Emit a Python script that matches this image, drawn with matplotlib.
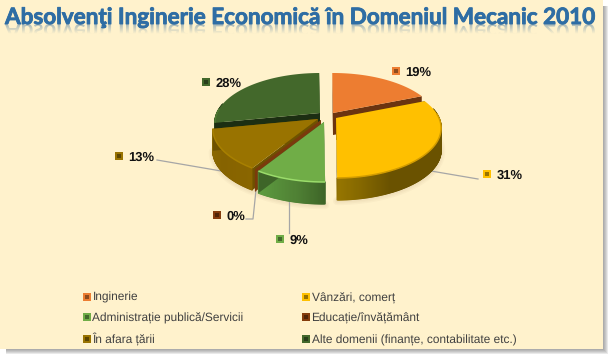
import numpy as np
import matplotlib
matplotlib.use('Agg')
import matplotlib.pyplot as plt
from matplotlib.colors import to_rgb
from matplotlib.font_manager import FontProperties
from matplotlib.patches import Rectangle, Polygon, PathPatch
from matplotlib.patheffects import withStroke
from matplotlib.textpath import TextPath
from matplotlib.transforms import Affine2D

plt.rcParams['text.hinting'] = 'no_hinting'

title = 'Absolvenţi Inginerie Economică în Domeniul Mecanic 2010'
names = ['Inginerie', 'Vânzări, comerț', 'Administrație publică/Servicii',
         'Educație/învățământ', 'În afara țării', 'Alte domenii (finanțe, contabilitate etc.)']
values = [19, 31, 9, 0, 13, 28]

top_cols = ['#ed7d31', '#ffc000', '#70ad47', '#843c0c', '#997300', '#43682b']
cut_cols = ['#6b3410', '#6b5300', '#3e6528', '#7a3a0c', '#6e5200', '#1c2e12']
rim_cols = ['#f59a5c', '#d29c00', '#9bdc6b', '#843c0c', '#a88000', '#4f7a33']
# wall colour along the angle of each slice
wall_stops = [
    ([0, 360], ['#7a3a0c', '#7a3a0c']),
    ([70, 155, 172, 180], ['#6a5200', '#6a5200', '#8a6c00', '#977600']),
    ([180, 192, 212], ['#3e6528', '#4f8034', '#5e9c40']),
    ([0, 360], ['#7a3a0c', '#7a3a0c']),
    ([212, 235, 260], ['#8a6600', '#866300', '#8a6800']),
    ([0, 360], ['#2a4019', '#2a4019']),
]
# where each exploded slice has its tip, in pixels
tips = [(333, 113), (336, 118), (324, 122), (321, 120), (318, 119), (320, 113)]
draw_order = [5, 0, 4, 3, 1, 2]

label_pos = [(396, 71), (487, 174), (280, 239), (217, 215), (119, 156), (206, 82)]
leaders = [
    ([431, 478], [171, 179]),
    ([289, 289], [200, 233]),
    ([246, 253, 256], [219, 219, 190]),
    ([157, 227], [160, 172]),
]
legend_x = [87, 306]
legend_y = [297, 317, 339]

RX, RY, PERSP, DEPTH = 103, 48, 0.2, 22
START = -0.5

fig = plt.figure(figsize=(6.11, 3.58), dpi=100, facecolor='white')
ax = fig.add_axes([0, 0, 1, 1])
ax.set_xlim(0, 611)
ax.set_ylim(358, 0)
ax.axis('off')

# panel and its shadow
for i in range(6):
    ax.add_patch(Rectangle((6, 6), 597 + i, 343 + i, fc='#666666', ec='none', alpha=0.14, zorder=0))
ax.add_patch(Rectangle((0, 0), 603, 349, fc='#fff2cc', ec='none', zorder=1))


def rim(theta, tip):
    t = np.radians(theta)
    s = 1 / (1 + PERSP * np.cos(t))
    return tip[0] + RX * np.sin(t) * s, tip[1] - RY * np.cos(t) * s


edges = START + 3.6 * np.concatenate([[0], np.cumsum(values)])

# soft shadow under the front of the pie
for lw in (6, 4, 2):
    for i in (1, 2, 4):
        a = np.linspace(edges[i], edges[i + 1], 40)
        x, y = rim(a, tips[i])
        ax.plot(x, y + DEPTH + 1, color='#a08060', lw=lw, alpha=0.05, zorder=2, solid_capstyle='round')

for n, i in enumerate(draw_order):
    z = 3 + n
    tip = tips[i]
    a0, a1 = edges[i], edges[i + 1]
    angles = np.linspace(a0, a1, max(int(a1 - a0) * 2, 2))
    x, y = rim(angles, tip)

    # outer wall, in small strips for the shading
    stops, cols = wall_stops[i]
    cols = np.array([to_rgb(c) for c in cols])
    for k in range(len(angles) - 1):
        mid = (angles[k] + angles[k + 1]) / 2
        if np.cos(np.radians(mid)) > 0.2:
            continue
        c = [np.interp(mid, stops, cols[:, j]) for j in range(3)]
        ax.add_patch(Polygon([(x[k], y[k]), (x[k + 1], y[k + 1]),
                              (x[k + 1], y[k + 1] + DEPTH), (x[k], y[k] + DEPTH)],
                             fc=c, ec=c, lw=0.9, zorder=z))
    # cut faces
    for j in (0, -1):
        ax.add_patch(Polygon([tip, (x[j], y[j]), (x[j], y[j] + DEPTH), (tip[0], tip[1] + DEPTH)],
                             fc=cut_cols[i], ec='none', zorder=z))
    # top
    if values[i] > 0:
        ax.add_patch(Polygon(np.vstack([[tip], np.column_stack([x, y])]),
                             fc=top_cols[i], ec='none', zorder=z))
        front = np.cos(np.radians(angles)) < 0.1
        ax.plot(x[front], y[front], color=rim_cols[i], lw=1.1, zorder=z, solid_capstyle='butt')

for lx, ly in leaders:
    ax.plot(lx, ly, color='#a6a6a6', lw=0.9, zorder=2)


def bevel_square(px, py, col, size=8):
    ax.scatter([px], [py], marker='s', s=size ** 2 * 0.52, color=col, linewidths=0, zorder=12)
    dark = tuple(c * 0.6 for c in to_rgb(col))
    ax.scatter([px], [py], marker='s', s=size ** 2 * 0.1, color=dark, linewidths=0, zorder=13)


for i, (px, py) in enumerate(label_pos):
    bevel_square(px, py, top_cols[i])
    ax.text(px + 9.5, py + 4.5, '%d%%' % values[i], fontsize=9.4, fontweight='bold', color='#111111',
            family='Liberation Sans', ha='left', va='baseline', zorder=14)

for i, name in enumerate(names):
    lx = legend_x[i % 2]
    ly = legend_y[i // 2]
    bevel_square(lx, ly, top_cols[i], size=7)
    ax.text(lx + 5.5, ly + 4, name, fontsize=8.6, color='#404040', family='Liberation Sans',
            ha='left', va='baseline', zorder=14)

# title with a fading mirror image under the baseline
TITLE_X, TITLE_BASE, TITLE_W = 5, 24, 590
font = FontProperties(family='Lato', weight='bold')
title_px = TITLE_W / TextPath((0, 0), title, size=100, prop=font).get_extents().width * 100
tp = TextPath((0, 0), title, size=title_px, prop=font)
patch = PathPatch(tp, fc='none', ec='none',
                  transform=Affine2D().translate(TITLE_X, TITLE_BASE) + ax.transData, zorder=15)
ax.add_patch(patch)
fade = np.zeros((24, 2, 4))
fade[..., :3] = to_rgb('#3a6f9f')
fade[..., 3] = np.linspace(0.45, 0, 24)[:, None]
im = ax.imshow(fade, extent=(0, 611, TITLE_BASE + 10, TITLE_BASE), aspect='auto', zorder=15)
im.set_clip_path(patch)
ax.set_xlim(0, 611)
ax.set_ylim(358, 0)
t = ax.text(TITLE_X, TITLE_BASE, title, fontsize=title_px * 0.72, color='#2e6da4',
            family='Lato', fontweight='bold', ha='left', va='baseline', zorder=16,
            path_effects=[withStroke(linewidth=0.6, foreground='#2e6da4')])

# the drawn text runs a little wider than the path, bring it back to the same width
fig.canvas.draw()
drawn = t.get_window_extent().width
t.set_fontsize(title_px * 0.72 * TITLE_W / drawn)

fig.savefig('out.png', dpi=100, facecolor='white')
